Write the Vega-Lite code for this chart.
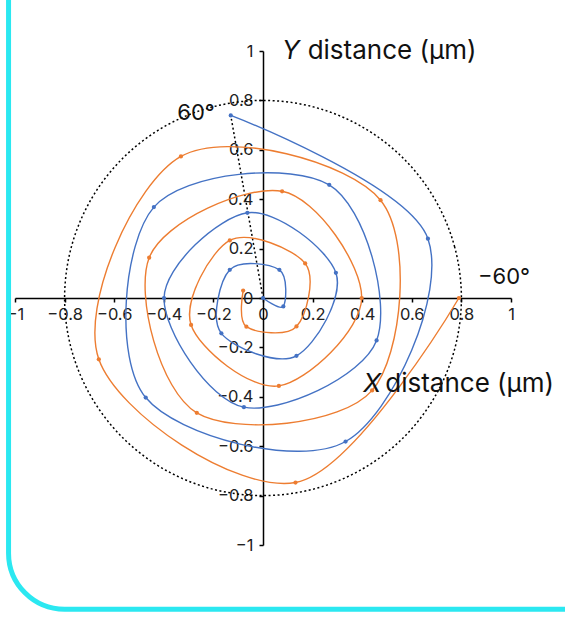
{
  "$schema": "https://vega.github.io/schema/vega-lite/v6.json",
  "width": 496,
  "height": 494,
  "autosize": {"type": "none"},
  "padding": {"left": 15, "top": 51, "right": 54, "bottom": 76},
  "background": "white",
  "config": {"view": {"stroke": null}, "font": "Inter"},
  "datasets": {
    "spiral": [
      {"s": "Series1", "i": 0, "x": 0, "y": 0},
      {"s": "Series1", "i": 1, "x": 0.082, "y": -0.034},
      {"s": "Series1", "i": 2, "x": 0.066, "y": 0.114},
      {"s": "Series1", "i": 3, "x": -0.134, "y": 0.114},
      {"s": "Series1", "i": 4, "x": -0.168, "y": -0.143},
      {"s": "Series1", "i": 5, "x": 0.135, "y": -0.234},
      {"s": "Series1", "i": 6, "x": 0.294, "y": 0.102},
      {"s": "Series1", "i": 7, "x": -0.063, "y": 0.345},
      {"s": "Series1", "i": 8, "x": -0.399, "y": 0},
      {"s": "Series1", "i": 9, "x": -0.077, "y": -0.442},
      {"s": "Series1", "i": 10, "x": 0.458, "y": -0.172},
      {"s": "Series1", "i": 11, "x": 0.267, "y": 0.458},
      {"s": "Series1", "i": 12, "x": -0.44, "y": 0.368},
      {"s": "Series1", "i": 13, "x": -0.473, "y": -0.403},
      {"s": "Series1", "i": 14, "x": 0.333, "y": -0.581},
      {"s": "Series1", "i": 15, "x": 0.665, "y": 0.24},
      {"s": "Series1", "i": 16, "x": -0.13, "y": 0.739},
      {"s": "Series2", "i": 1, "x": -0.08, "y": 0.03},
      {"s": "Series2", "i": 2, "x": -0.067, "y": -0.116},
      {"s": "Series2", "i": 3, "x": 0.135, "y": -0.115},
      {"s": "Series2", "i": 4, "x": 0.17, "y": 0.14},
      {"s": "Series2", "i": 5, "x": -0.134, "y": 0.233},
      {"s": "Series2", "i": 6, "x": -0.29, "y": -0.109},
      {"s": "Series2", "i": 7, "x": 0.064, "y": -0.356},
      {"s": "Series2", "i": 8, "x": 0.398, "y": 0},
      {"s": "Series2", "i": 9, "x": 0.077, "y": 0.432},
      {"s": "Series2", "i": 10, "x": -0.459, "y": 0.163},
      {"s": "Series2", "i": 11, "x": -0.267, "y": -0.465},
      {"s": "Series2", "i": 12, "x": 0.44, "y": -0.374},
      {"s": "Series2", "i": 13, "x": 0.474, "y": 0.396},
      {"s": "Series2", "i": 14, "x": -0.331, "y": 0.573},
      {"s": "Series2", "i": 15, "x": -0.662, "y": -0.248},
      {"s": "Series2", "i": 16, "x": 0.131, "y": -0.747},
      {"s": "Series2", "i": 17, "x": 0.79, "y": 0}
    ],
    "circle": [
      {"i": 0, "x": 0.8, "y": 0},
      {"i": 1, "x": 0.7727, "y": 0.2071},
      {"i": 2, "x": 0.6928, "y": 0.4},
      {"i": 3, "x": 0.5657, "y": 0.5657},
      {"i": 4, "x": 0.4, "y": 0.6928},
      {"i": 5, "x": 0.2071, "y": 0.7727},
      {"i": 6, "x": 0, "y": 0.8},
      {"i": 7, "x": -0.2071, "y": 0.7727},
      {"i": 8, "x": -0.4, "y": 0.6928},
      {"i": 9, "x": -0.5657, "y": 0.5657},
      {"i": 10, "x": -0.6928, "y": 0.4},
      {"i": 11, "x": -0.7727, "y": 0.2071},
      {"i": 12, "x": -0.8, "y": 0},
      {"i": 13, "x": -0.7727, "y": -0.2071},
      {"i": 14, "x": -0.6928, "y": -0.4},
      {"i": 15, "x": -0.5657, "y": -0.5657},
      {"i": 16, "x": -0.4, "y": -0.6928},
      {"i": 17, "x": -0.2071, "y": -0.7727},
      {"i": 18, "x": 0, "y": -0.8},
      {"i": 19, "x": 0.2071, "y": -0.7727},
      {"i": 20, "x": 0.4, "y": -0.6928},
      {"i": 21, "x": 0.5657, "y": -0.5657},
      {"i": 22, "x": 0.6928, "y": -0.4},
      {"i": 23, "x": 0.7727, "y": -0.2071}
    ],
    "radial": [
      {"i": 0, "x": 0, "y": 0},
      {"i": 1, "x": -0.13, "y": 0.739}
    ],
    "frame": [
      {"x": -1.026, "x2": 1.8, "y": -1.26, "y2": 1.8}
    ]
  },
  "encoding": {
    "x": {
      "field": "x",
      "type": "quantitative",
      "scale": {"domain": [-1, 1], "nice": false, "zero": false},
      "axis": {
        "orient": "bottom",
        "offset": -247,
        "values": [-1, -0.8, -0.6, -0.4, -0.2, 0, 0.2, 0.4, 0.6, 0.8, 1],
        "format": "~g",
        "title": null,
        "grid": false,
        "domainColor": "black",
        "domainWidth": 1.5,
        "tickColor": "black",
        "tickWidth": 1.5,
        "tickSize": 4,
        "labelFont": "Inter",
        "labelFontSize": 16.5,
        "labelColor": "#222222",
        "labelPadding": 4,
        "labelFlush": false,
        "labelOverlap": false
      }
    },
    "y": {
      "field": "y",
      "type": "quantitative",
      "scale": {"domain": [-1, 1], "nice": false, "zero": false},
      "axis": {
        "orient": "left",
        "offset": -248,
        "values": [-1, -0.8, -0.6, -0.4, -0.2, 0, 0.2, 0.4, 0.6, 0.8, 1],
        "format": "~g",
        "title": null,
        "grid": false,
        "domainColor": "black",
        "domainWidth": 1.5,
        "tickColor": "black",
        "tickWidth": 1.5,
        "tickSize": 4,
        "labelFont": "Inter",
        "labelFontSize": 16.5,
        "labelColor": "#222222",
        "labelPadding": 6,
        "labelFlush": false,
        "labelOverlap": false
      }
    }
  },
  "layer": [
    {
      "data": {"name": "frame"},
      "mark": {"type": "rect", "fill": "transparent", "stroke": "#2BE8F1", "strokeWidth": 5, "cornerRadius": 56},
      "encoding": {
        "x2": {"field": "x2"},
        "y2": {"field": "y2"}
      }
    },
    {
      "data": {"name": "circle"},
      "mark": {"type": "line", "interpolate": "cardinal-closed", "color": "black", "strokeWidth": 1.5, "strokeDash": [2, 2.5]},
      "encoding": {"order": {"field": "i"}}
    },
    {
      "data": {"name": "radial"},
      "mark": {"type": "line", "color": "black", "strokeWidth": 1.5, "strokeDash": [2, 2.5]},
      "encoding": {"order": {"field": "i"}}
    },
    {
      "data": {"name": "spiral"},
      "mark": {"type": "line", "interpolate": "cardinal", "strokeWidth": 1.4, "point": {"filled": true, "size": 18}},
      "encoding": {
        "color": {
          "field": "s",
          "type": "nominal",
          "scale": {"domain": ["Series1", "Series2"], "range": ["#4472C4", "#ED7D31"]},
          "legend": null
        },
        "order": {"field": "i"}
      }
    },
    {
      "data": {"values": [
        {"x": 0.077, "y": 0.968, "t": "Y"},
        {"x": 0.404, "y": -0.381, "t": "X"}
      ]},
      "mark": {"type": "text", "align": "left", "baseline": "alphabetic", "fontSize": 26, "fontStyle": "italic", "color": "#111111"},
      "encoding": {"text": {"field": "t"}}
    },
    {
      "data": {"values": [
        {"x": 0.18, "y": 0.968, "t": "distance (µm)"},
        {"x": 0.493, "y": -0.381, "t": "distance (µm)"}
      ]},
      "mark": {"type": "text", "align": "left", "baseline": "alphabetic", "fontSize": 26, "color": "#111111"},
      "encoding": {"text": {"field": "t"}}
    },
    {
      "data": {"values": [
        {"x": -0.194, "y": 0.719, "t": "60°"}
      ]},
      "mark": {"type": "text", "align": "right", "baseline": "alphabetic", "fontSize": 22, "color": "#111111"},
      "encoding": {"text": {"field": "t"}}
    },
    {
      "data": {"values": [
        {"x": 0.867, "y": 0.057, "t": "−60°"}
      ]},
      "mark": {"type": "text", "align": "left", "baseline": "alphabetic", "fontSize": 22, "color": "#111111"},
      "encoding": {"text": {"field": "t"}}
    }
  ]
}
